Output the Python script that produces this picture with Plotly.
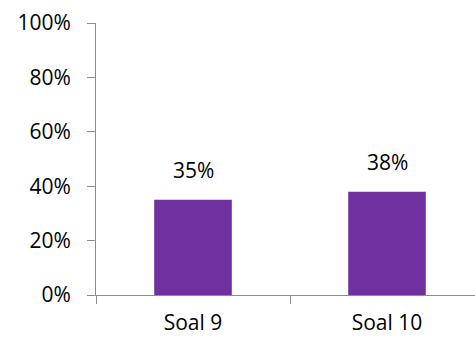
import plotly.graph_objects as go

categories = ["Soal 9", "Soal 10"]
values = [0.35, 0.38]
labels = ["35%", "38%"]
tick_vals = [0, 0.2, 0.4, 0.6, 0.8, 1.0]
tick_text = ["0%", "20%", "40%", "60%", "80%", "100%"]

W, H = 475, 338
L, R, T, B = 96, 0, 23, 43
cat_px = 194.0
plot_w = W - L - R
FONT = "Open Sans"
FS = 21

fig = go.Figure()
fig.add_trace(go.Bar(
    x=categories, y=values, width=0.4,
    marker=dict(color="#7030A0", line=dict(width=0)),
    hoverinfo="skip",
))
for c, v, t in zip(categories, values, labels):
    fig.add_annotation(x=c, y=v, text=t, showarrow=False, yanchor="bottom",
                       yshift=14, font=dict(size=FS, color="#000000", family=FONT))

fig.update_layout(
    width=W, height=H,
    margin=dict(l=L, r=R, t=T, b=B, pad=0),
    paper_bgcolor="white", plot_bgcolor="white",
    showlegend=False,
    font=dict(family=FONT, size=FS, color="#000000"),
    xaxis=dict(
        type="category",
        range=[-0.5, -0.5 + plot_w / cat_px],
        showline=True, linecolor="#8c8c8c", linewidth=1,
        ticks="outside", tickson="boundaries", ticklen=8, tickcolor="#8c8c8c",
        showgrid=False, zeroline=False, automargin=False,
        tickfont=dict(size=FS, family=FONT),
        ticklabelstandoff=9,
    ),
    yaxis=dict(
        range=[0, 1.0],
        tickvals=tick_vals, ticktext=tick_text,
        showline=True, linecolor="#8c8c8c", linewidth=1,
        ticks="outside", ticklen=8, tickcolor="#8c8c8c",
        showgrid=False, zeroline=False, automargin=False,
        tickfont=dict(size=FS, family=FONT),
        ticklabelstandoff=12,
    ),
)
fig.write_html("out.html")
